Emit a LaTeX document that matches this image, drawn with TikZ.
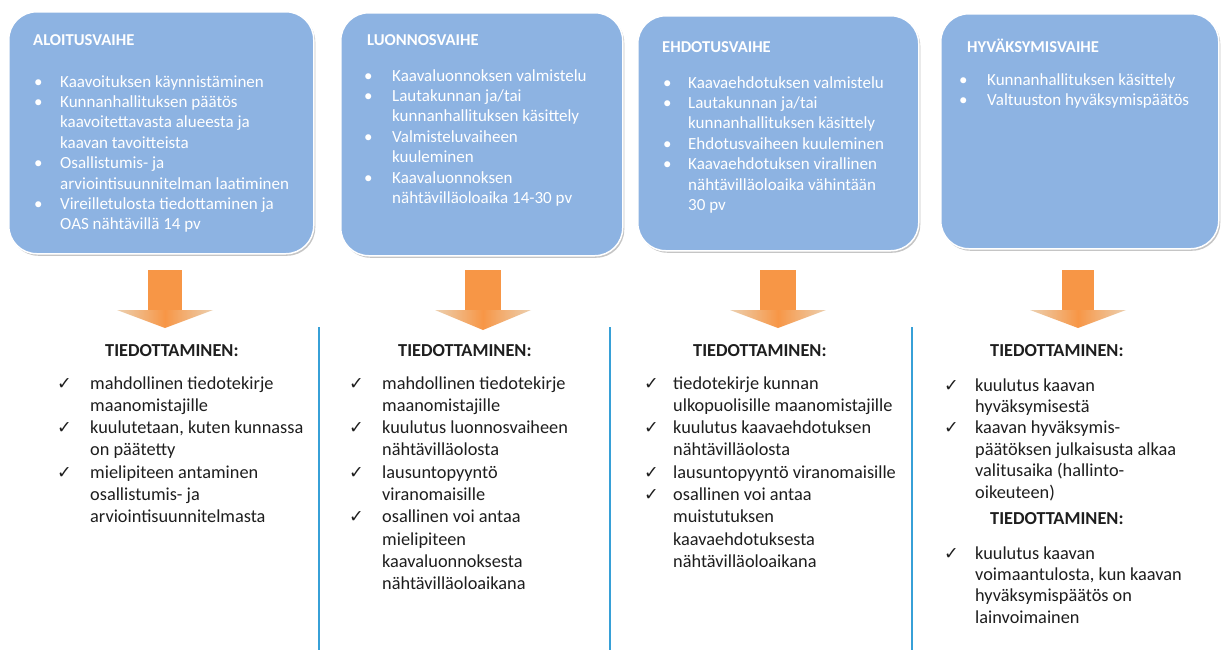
\documentclass[tikz,border=0pt]{standalone}
\usepackage{fontspec}
\setmainfont{Carlito}
\newfontfamily\checkfont{DejaVu Sans}
\usetikzlibrary{shadows}
\definecolor{phaseblue}{RGB}{141,179,226}
\definecolor{arroworange}{RGB}{247,150,70}
\definecolor{arrowtan}{RGB}{236,208,176}
\definecolor{sepblue}{RGB}{55,160,215}
\definecolor{infotext}{RGB}{30,30,30}
\newcommand{\bul}{\textbullet}
\newcommand{\chk}{{\fontsize{17.5}{10}\selectfont\checkfont ✓}}
\begin{document}
\begin{tikzpicture}[x=1pt, y=-1pt,
    phasebox/.style={draw=white, line width=1.5pt, fill=phaseblue, rounded corners=28pt,
      anchor=north west, inner sep=0pt,
      drop shadow={shadow xshift=1.5pt, shadow yshift=-2pt, fill=black!45, opacity=.5}},
    phasetitle/.style={anchor=base west, inner sep=0pt, text=white, font=\fontsize{16.6}{20.4}\selectfont\bfseries},
    phaselist/.style={anchor=base west, inner sep=0pt, text=white, font=\fontsize{17}{20.4}\selectfont},
    infotitle/.style={anchor=base west, inner sep=0pt, text=infotext, font=\fontsize{18.3}{22.3}\selectfont\bfseries},
    infolist/.style={anchor=base west, inner sep=0pt, text=infotext, font=\fontsize{18.3}{22.3}\selectfont},
    arrowbody/.style={fill=arroworange},
    arrowhead/.style={left color=arrowtan, right color=arrowtan, middle color=arroworange},
    sepline/.style={draw=sepblue, line width=1.6pt}]
    \useasboundingbox[fill=white] (0,0) rectangle (1222,653);

    % phases
    \node[phasebox, minimum width=305pt, minimum height=242pt] (b1) at (8,11) {};
    \node[phasebox, minimum width=282pt, minimum height=243pt] (b2) at (340,12) {};
    \node[phasebox, minimum width=281pt, minimum height=235pt] (b3) at (637,15) {};
    \node[phasebox, minimum width=278pt, minimum height=235pt] (b4) at (940,13) {};

    \node[phasetitle] (p1) at (33,45) {ALOITUSVAIHE};
    \node[phasetitle] (p2) at (367,45) {LUONNOSVAIHE};
    \node[phasetitle] (p3) at (662,52) {EHDOTUSVAIHE};
    \node[phasetitle] (p4) at (967,52) {HYVÄKSYMISVAIHE};

    \node[phaselist] (l1) at (34,87) {\begin{tabular}[t]{@{}p{26pt}@{}l@{}}
        \bul & Kaavoituksen käynnistäminen\\
        \bul & Kunnanhallituksen päätös\\
             & kaavoitettavasta alueesta ja\\
             & kaavan tavoitteista\\
        \bul & Osallistumis- ja\\
             & arviointisuunnitelman laatiminen\\
        \bul & Vireilletulosta tiedottaminen ja\\
             & OAS nähtävillä 14 pv
      \end{tabular}};
    \node[phaselist] (l2) at (364,81) {\begin{tabular}[t]{@{}p{28pt}@{}l@{}}
        \bul & Kaavaluonnoksen valmistelu\\
        \bul & Lautakunnan ja/tai\\
             & kunnanhallituksen käsittely\\
        \bul & Valmisteluvaiheen\\
             & kuuleminen\\
        \bul & Kaavaluonnoksen\\
             & nähtävilläoloaika 14-30 pv
      \end{tabular}};
    \node[phaselist] (l3) at (663,88) {\begin{tabular}[t]{@{}p{25pt}@{}l@{}}
        \bul & Kaavaehdotuksen valmistelu\\
        \bul & Lautakunnan ja/tai\\
             & kunnanhallituksen käsittely\\
        \bul & Ehdotusvaiheen kuuleminen\\
        \bul & Kaavaehdotuksen virallinen\\
             & nähtävilläoloaika vähintään\\
             & 30 pv
      \end{tabular}};
    \node[phaselist] (l4) at (959,85) {\begin{tabular}[t]{@{}p{28pt}@{}l@{}}
        \bul & Kunnanhallituksen käsittely\\
        \bul & Valtuuston hyväksymispäätös
      \end{tabular}};

    % block arrows
    \coordinate (s1) at (165,270);
    \coordinate (t1) at (165,328);
    \coordinate (s2) at (483,270);
    \coordinate (t2) at (483,330);
    \coordinate (s3) at (778,270);
    \coordinate (t3) at (778,328);
    \coordinate (s4) at (1078,270);
    \coordinate (t4) at (1078,328);
    \fill[arrowbody] ([xshift=-17pt]s1) rectangle ([xshift=17pt,yshift=-41pt]s1);
    \shade[arrowhead] ([xshift=-48pt,yshift=-40pt]s1) -- ([xshift=48pt,yshift=-40pt]s1) -- (t1) -- cycle;
    \fill[arrowbody] ([xshift=-18pt]s2) rectangle ([xshift=18pt,yshift=-41pt]s2);
    \shade[arrowhead] ([xshift=-48pt,yshift=-40pt]s2) -- ([xshift=48pt,yshift=-40pt]s2) -- (t2) -- cycle;
    \fill[arrowbody] ([xshift=-18pt]s3) rectangle ([xshift=18pt,yshift=-41pt]s3);
    \shade[arrowhead] ([xshift=-48pt,yshift=-40pt]s3) -- ([xshift=48pt,yshift=-40pt]s3) -- (t3) -- cycle;
    \fill[arrowbody] ([xshift=-16pt]s4) rectangle ([xshift=16pt,yshift=-41pt]s4);
    \shade[arrowhead] ([xshift=-48pt,yshift=-40pt]s4) -- ([xshift=48pt,yshift=-40pt]s4) -- (t4) -- cycle;

    % separators
    \draw[sepline] (319,327) -- (319,650);
    \draw[sepline] (610,327) -- (610,650);
    \draw[sepline] (912,327) -- (912,650);

    % tiedottaminen
    \node[infotitle] (h1) at (105,356) {TIEDOTTAMINEN:};
    \node[infotitle] (h2) at (398,356) {TIEDOTTAMINEN:};
    \node[infotitle] (h3) at (693,356) {TIEDOTTAMINEN:};
    \node[infotitle] (h4) at (990,356) {TIEDOTTAMINEN:};
    \node[infotitle] (h5) at (990,524) {TIEDOTTAMINEN:};

    \node[infolist] (i1) at (57,389) {\begin{tabular}[t]{@{}p{33pt}@{}l@{}}
        \chk & mahdollinen tiedotekirje\\
             & maanomistajille\\
        \chk & kuulutetaan, kuten kunnassa\\
             & on päätetty\\
        \chk & mielipiteen antaminen\\
             & osallistumis- ja\\
             & arviointisuunnitelmasta
      \end{tabular}};
    \node[infolist] (i2) at (349,389) {\begin{tabular}[t]{@{}p{33pt}@{}l@{}}
        \chk & mahdollinen tiedotekirje\\
             & maanomistajille\\
        \chk & kuulutus luonnosvaiheen\\
             & nähtävilläolosta\\
        \chk & lausuntopyyntö\\
             & viranomaisille\\
        \chk & osallinen voi antaa\\
             & mielipiteen\\
             & kaavaluonnoksesta\\
             & nähtävilläoloaikana
      \end{tabular}};
    \node[infolist] (i3) at (644,389) {\begin{tabular}[t]{@{}p{29pt}@{}l@{}}
        \chk & tiedotekirje kunnan\\
             & ulkopuolisille maanomistajille\\
        \chk & kuulutus kaavaehdotuksen\\
             & nähtävilläolosta\\
        \chk & lausuntopyyntö viranomaisille\\
        \chk & osallinen voi antaa\\
             & muistutuksen\\
             & kaavaehdotuksesta\\
             & nähtävilläoloaikana
      \end{tabular}};
    \node[infolist, font=\fontsize{18.3}{21.4}\selectfont] (i4) at (944,391) {\begin{tabular}[t]{@{}p{31pt}@{}l@{}}
        \chk & kuulutus kaavan\\
             & hyväksymisestä\\
        \chk & kaavan hyväksymis-\\
             & päätöksen julkaisusta alkaa\\
             & valitusaika (hallinto-\\
             & oikeuteen)
      \end{tabular}};
    \node[infolist, font=\fontsize{18.3}{21.4}\selectfont] (i5) at (944,559) {\begin{tabular}[t]{@{}p{31pt}@{}l@{}}
        \chk & kuulutus kaavan\\
             & voimaantulosta, kun kaavan\\
             & hyväksymispäätös on\\
             & lainvoimainen
      \end{tabular}};
\end{tikzpicture}
\end{document}
